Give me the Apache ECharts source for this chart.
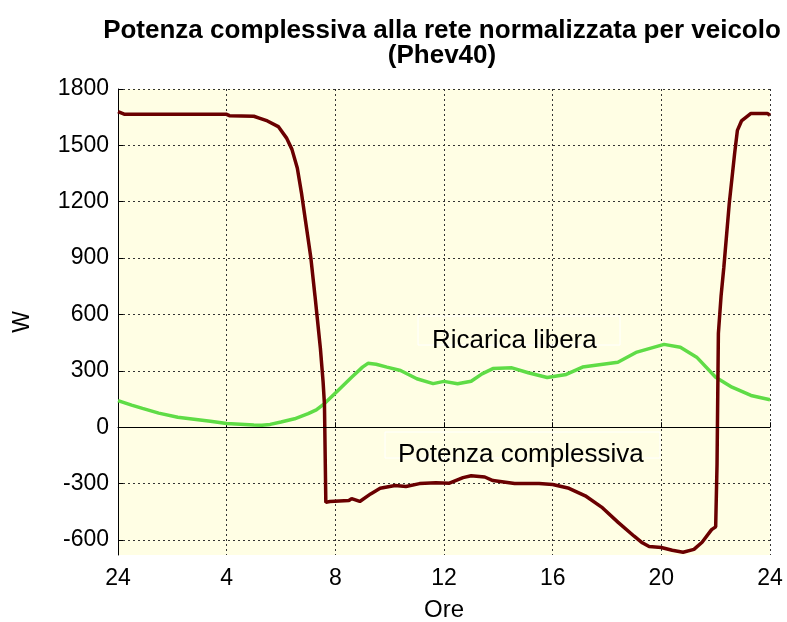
<!DOCTYPE html>
<html>
<head>
<meta charset="utf-8">
<script src="https://cdn.jsdelivr.net/npm/echarts@6/dist/echarts.min.js"></script>
<style>
  html, body { margin: 0; padding: 0; background: #fff; }
  #chart { width: 787px; height: 622px; }
</style>
</head>
<body>
<div id="chart"></div>
<script>
// ore del giorno (0 = mezzanotte, mostrata come "24")
var oreTot = [0, 0.25, 4.0, 4.1, 5.0, 5.2, 5.5, 5.9, 6.2, 6.4, 6.6, 6.75, 6.9, 7.0, 7.1, 7.25, 7.35, 7.45, 7.55, 7.6,
    7.65, 7.8, 8.5, 8.6, 8.9, 9.3, 9.65, 10.2, 10.6, 11.1, 11.7, 12.2, 12.7, 13.0, 13.5, 13.8, 14.6, 15.5, 16.0,
    16.6, 17.2, 17.8, 18.4, 19.0, 19.3, 19.55, 20.0, 20.4, 20.8, 21.2, 21.5, 21.85, 22.0, 22.05, 22.1, 22.2, 22.3,
    22.5, 22.7, 22.8, 22.95, 23.3, 23.9, 24];
var potenzaComplessiva = [1680, 1665, 1665, 1658, 1655, 1645, 1630, 1600, 1540, 1480, 1380, 1250, 1100, 1000, 900, 700, 560, 420, 240, 120,
    -400, -395, -390, -380, -395, -355, -325, -310, -315, -300, -295, -298, -268, -258, -265, -284, -300, -300, -305,
    -325, -365, -425, -505, -580, -615, -635, -640, -655, -665, -650, -612, -545, -530, -200, 500, 700, 850,
    1190, 1460, 1580, 1630, 1670, 1670, 1660];

var oreLib = [0, 0.5, 0.9, 1.5, 2.2, 3.4, 4.0, 4.5, 5.0, 5.3, 5.6, 6.0, 6.5, 7.0, 7.3, 7.6, 8.1, 8.6, 9.0, 9.2,
    9.5, 9.9, 10.4, 11.0, 11.6, 12.0, 12.5, 13.0, 13.4, 13.8, 14.5, 15.1, 15.8, 16.5, 17.1, 18.4, 19.1, 20.1,
    20.7, 21.3, 22.0, 22.6, 23.3, 24];
var ricaricaLibera = [142, 118, 100, 75, 53, 32, 20, 16, 12, 10, 15, 28, 45, 72, 92, 126, 196, 266, 320, 340,
    335, 320, 302, 258, 232, 244, 231, 245, 284, 312, 316, 290, 265, 281, 320, 346, 400, 441,
    426, 373, 266, 213, 169, 146];

var yTicks = [-600, -300, 0, 300, 600, 900, 1200, 1500, 1800];

function pairs(xs, ys) {
    return xs.map(function (x, i) { return [x, ys[i]]; });
}

var myChart = echarts.init(document.getElementById('chart'));
var font = 'Liberation Sans, Arial, sans-serif';
var dotted = { color: '#333', width: 1, type: [2, 3] };

var option = {
    animation: false,
    backgroundColor: '#ffffff',
    title: {
        text: 'Potenza complessiva alla rete normalizzata per veicolo\n(Phev40)',
        left: 437, top: 13, textAlign: 'center',
        textStyle: { fontFamily: font, fontSize: 26, fontWeight: 'bold', color: '#000', lineHeight: 25 }
    },
    grid: {
        left: 118, right: 17, top: 89, bottom: 67,
        outerBoundsMode: 'none',
        show: true, backgroundColor: '#FFFEE4', borderWidth: 0
    },
    xAxis: {
        type: 'value', min: 0, max: 24, interval: 4,
        name: 'Ore', nameLocation: 'middle', nameGap: 43,
        nameTextStyle: { fontFamily: font, fontSize: 24, color: '#000' },
        axisLine: { lineStyle: { color: '#000', width: 1 } },
        axisTick: { inside: true, length: 5, lineStyle: { color: '#000' } },
        axisLabel: {
            fontFamily: font, fontSize: 23, color: '#000', margin: 12,
            formatter: function (v) { return v === 0 ? '24' : String(v); }
        },
        splitLine: { show: true, lineStyle: dotted }
    },
    yAxis: {
        type: 'value', min: -680, max: 1800,
        name: 'W', nameLocation: 'middle', nameGap: 84,
        nameTextStyle: { fontFamily: font, fontSize: 23, color: '#000' },
        axisLine: { show: true, lineStyle: { color: '#000', width: 1 } },
        axisTick: { inside: true, length: 5, lineStyle: { color: '#000' }, customValues: yTicks },
        axisLabel: {
            fontFamily: font, fontSize: 23, color: '#000', margin: 9, customValues: yTicks,
            formatter: function (v) { return String(v); }
        },
        splitLine: { show: true, lineStyle: dotted }
    },
    graphic: [
        { type: 'rect', shape: { x: 418, y: 316, width: 202, height: 29 }, style: { fill: null, stroke: '#fff', lineWidth: 1 }, z: 5 },
        { type: 'text', x: 432, y: 341, style: { text: 'Ricarica libera', fontFamily: font, fontSize: 26, fill: '#000', verticalAlign: 'middle' }, z: 6 },
        { type: 'rect', shape: { x: 385, y: 432, width: 275, height: 26 }, style: { fill: null, stroke: '#fff', lineWidth: 1 }, z: 5 },
        { type: 'text', x: 398, y: 455, style: { text: 'Potenza complessiva', fontFamily: font, fontSize: 26, fill: '#000', verticalAlign: 'middle' }, z: 6 }
    ],
    series: [
        {
            name: 'Ricarica libera', type: 'line', data: pairs(oreLib, ricaricaLibera),
            showSymbol: false, smooth: false,
            lineStyle: { color: '#5FDC46', width: 3.5 },
            markLine: {
                silent: true, symbol: 'none', label: { show: false },
                lineStyle: { color: '#000', width: 1, type: 'solid' },
                data: [{ yAxis: 0 }]
            }
        },
        {
            name: 'Potenza complessiva', type: 'line', data: pairs(oreTot, potenzaComplessiva),
            showSymbol: false, smooth: false,
            lineStyle: { color: '#6A0000', width: 3.5 }
        }
    ]
};
myChart.setOption(option);
</script>
</body>
</html>
